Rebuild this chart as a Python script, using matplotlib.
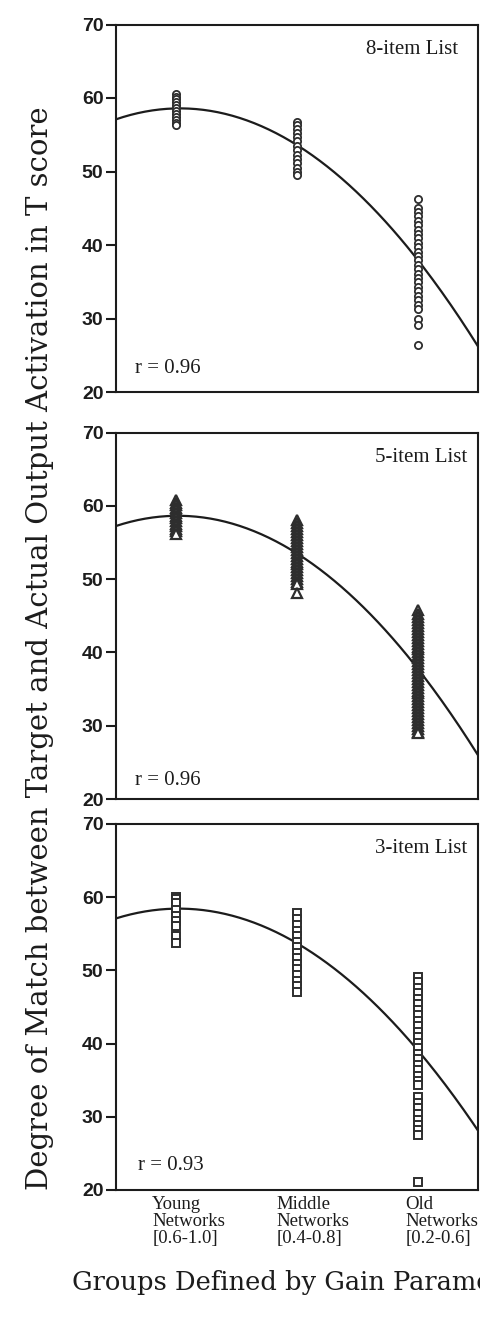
import matplotlib
matplotlib.use("Agg")
import matplotlib.pyplot as plt
import matplotlib.transforms as mtransforms
import numpy as np

# group positions and labels
groups = [1, 2, 3]
group_labels = ["Young\nNetworks\n[0.6-1.0]",
                "Middle\nNetworks\n[0.4-0.8]",
                "Old\nNetworks\n[0.2-0.6]"]

# 8-item list (circles)
young_8 = [60.6, 60.2, 59.8, 59.4, 59.0, 58.6, 58.2, 57.8, 57.4, 57.0, 56.6, 56.3]
middle_8 = [56.8, 56.3, 55.8, 55.2, 54.7, 54.1, 53.5, 52.9, 52.3, 51.7, 51.1,
            50.5, 50.0, 49.5]
old_8 = [46.2, 45.0, 44.5, 43.9, 43.3, 42.7, 42.1, 41.5, 40.9, 40.3, 39.7, 39.1,
         38.5, 37.9, 37.3, 36.7, 36.1, 35.5, 34.9, 34.3, 33.7, 33.1, 32.5, 31.9,
         31.3, 29.9, 29.1, 26.4]

# 5-item list (triangles)
young_5 = [60.8, 60.4, 60.1, 59.7, 59.4, 59.0, 58.6, 58.3, 57.9, 57.5, 57.2,
           56.8, 56.5, 56.1]
middle_5 = [58.0, 57.6, 57.2, 56.8, 56.4, 56.0, 55.6, 55.2, 54.8, 54.4, 54.0,
            53.6, 53.2, 52.8, 52.4, 52.0, 51.6, 51.2, 50.8, 50.4, 50.0, 49.6,
            49.3, 48.1]
old_5 = [45.8, 45.2, 44.8, 44.4, 44.0, 43.6, 43.2, 42.8, 42.4, 42.0, 41.6, 41.2,
         40.8, 40.4, 40.0, 39.6, 39.2, 38.8, 38.4, 38.0, 37.6, 37.2, 36.8, 36.4,
         36.0, 35.6, 35.2, 34.8, 34.4, 34.0, 33.6, 33.2, 32.8, 32.4, 32.0, 31.6,
         31.2, 30.8, 30.4, 30.0, 29.6, 29.2, 29.0]

# 3-item list (squares)
young_3 = [60.0, 59.8, 59.2, 58.3, 57.5, 56.8, 56.0, 54.7, 53.8]
middle_3 = [57.8, 57.0, 56.2, 55.4, 54.7, 53.9, 53.2, 52.4, 51.7, 50.9, 50.2,
            49.4, 48.6, 47.9, 47.1]
old_3 = [49.1, 48.4, 47.6, 46.9, 46.1, 45.4, 44.6, 43.9, 43.1, 42.4, 41.6, 40.9,
         40.1, 39.4, 38.6, 37.9, 37.1, 36.4, 35.6, 34.9, 34.3,
         32.7, 31.9, 31.2, 30.4, 29.6, 28.9, 28.2, 27.5, 21.05]

# quadratic fit curves (c0, c1, c2)
fit_8 = [52.96, 10.93, -5.307]
fit_5 = [53.21, 10.71, -5.283]
fit_3 = [53.30, 10.07, -4.933]

panel_titles = ["8-item List", "5-item List", "3-item List"]
r_values = ["r = 0.96", "r = 0.96", "r = 0.93"]
y_ticks = [20, 30, 40, 50, 60, 70]

panels = [
    (young_8, middle_8, old_8, fit_8, "o", 5.2, 1.3),
    (young_5, middle_5, old_5, fit_5, "^", 7.0, 1.6),
    (young_3, middle_3, old_3, fit_3, "s", 5.2, 1.4),
]

INK = "#1c1c1c"
W, H = 481, 1319
fig = plt.figure(figsize=(W / 100, H / 100), dpi=100)
fig.patch.set_facecolor("white")

# axes boxes in pixels: (top, bottom)
boxes = [(24.5, 392), (432.5, 799), (824, 1190)]
left_px, right_px = 116, 478
title_inset = [20, 11, 11]
r_pos = [(19, 19), (19, 14), (22, 20)]

for i, ((yv, mv, ov, fit, mk, ms, mew), (top, bot)) in enumerate(zip(panels, boxes)):
    ax = fig.add_axes([left_px / W, 1 - bot / H, (right_px - left_px) / W, (bot - top) / H])
    ax.set_xlim(0.5, 3.5)
    ax.set_ylim(20, 70)
    for g, vals in zip(groups, (yv, mv, ov)):
        ax.plot([g] * len(vals), vals, linestyle="none", marker=mk, markersize=ms,
                markerfacecolor="white", markeredgecolor="#2e2e2e",
                markeredgewidth=mew, zorder=3)
    xs = np.linspace(0.5, 3.5, 200)
    ax.plot(xs, np.polyval(fit[::-1], xs), color=INK, lw=1.6, zorder=2)

    for s in ax.spines.values():
        s.set_linewidth(1.5)
        s.set_color(INK)
    ax.set_yticks(y_ticks)
    ax.tick_params(axis="y", direction="out", length=7, width=1.5, pad=2,
                   labelsize=14, colors=INK)
    ax.tick_params(axis="x", length=0)
    for lab in ax.get_yticklabels():
        lab.set_family("Liberation Sans")
        lab.set_fontweight("bold")

    h_px = bot - top
    ax.text(1 - title_inset[i] / (right_px - left_px), 1 - 29 / h_px, panel_titles[i],
            transform=ax.transAxes, ha="right", va="baseline",
            family="Liberation Serif", fontsize=15, color=INK)
    ax.text(r_pos[i][0] / (right_px - left_px), r_pos[i][1] / h_px, r_values[i],
            transform=ax.transAxes, ha="left", va="baseline",
            family="Liberation Serif", fontsize=15, color=INK)

    if i < 2:
        ax.set_xticks([])
    else:
        ax.set_xticks(groups)
        ax.set_xticklabels([])
        label_left = [0.80, 1.83, 2.90]
        trans = mtransforms.blended_transform_factory(ax.transData, ax.transAxes)
        for xl, lab in zip(label_left, group_labels):
            ax.text(xl, -6 / h_px, lab, transform=trans, ha="left", va="top",
                    family="Liberation Serif", fontsize=13.5, linespacing=1.0,
                    color=INK)

fig.text(40 / W, 1 - 648 / H,
         "Degree of Match between Target and Actual Output Activation in T score",
         rotation=90, ha="center", va="center", family="DejaVu Serif",
         fontsize=21, color=INK)
fig.text(72 / W, 1 - 1290 / H, "Groups Defined by Gain Parameter",
         ha="left", va="baseline", family="DejaVu Serif", fontsize=18.5, color=INK)

fig.savefig("out.png", dpi=100, facecolor="white")
